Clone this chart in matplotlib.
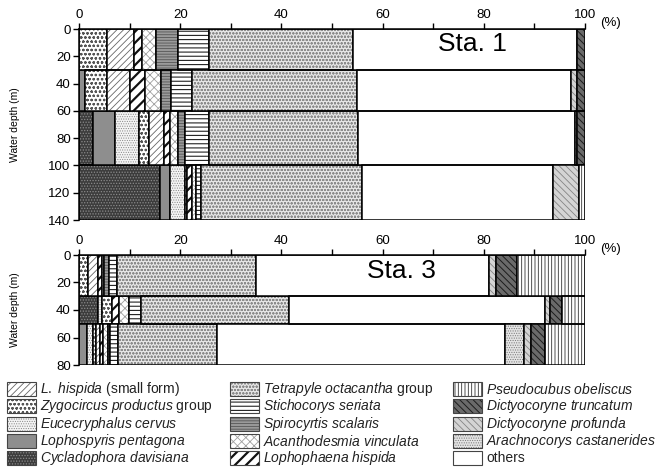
import matplotlib
matplotlib.use('Agg')
import matplotlib.pyplot as plt
import matplotlib.patches as mpatches
import numpy as np

plt.rcParams['font.family'] = ['Liberation Sans', 'DejaVu Sans']
plt.rcParams['mathtext.fontset'] = 'custom'
plt.rcParams['mathtext.rm'] = 'Liberation Sans'
plt.rcParams['mathtext.it'] = 'Liberation Sans:italic'
plt.rcParams['hatch.linewidth'] = 0.6

# ---- data (% of assemblage per depth interval) ----
sta1_depths = [0, 30, 60, 100, 140]
sta3_depths = [0, 30, 50, 80]

# stacking order from left to right; "others" fills the remainder
sta1_cycladophora = [0, 0, 2.8, 16.0]
sta1_lophospyris = [0, 1.2, 4.3, 2.0]
sta1_eucecryphalus = [0, 0, 4.8, 3.0]
sta1_zygocircus = [5.5, 4.3, 2.0, 0.4]
sta1_l_hispida_small = [5.3, 4.6, 2.9, 0]
sta1_lophophaena = [1.6, 3.0, 1.2, 1.0]
sta1_acanthodesmia = [2.8, 3.1, 1.5, 0.8]
sta1_spirocyrtis = [4.3, 2.0, 1.5, 0]
sta1_stichocorys = [6.1, 4.1, 4.7, 1.0]
sta1_tetrapyle = [28.5, 32.7, 29.5, 31.8]
sta1_arachnocorys = [0, 0, 0, 0]
sta1_d_profunda = [0, 1.3, 0.5, 5.3]
sta1_d_truncatum = [1.5, 1.5, 1.5, 0]
sta1_pseudocubus = [0, 0, 0, 1.1]

sta3_cycladophora = [0, 3.8, 0]
sta3_lophospyris = [0, 0, 1.5]
sta3_eucecryphalus = [0, 0.7, 1.3]
sta3_zygocircus = [1.8, 2.0, 0.6]
sta3_l_hispida_small = [1.9, 0, 0.8]
sta3_lophophaena = [0.8, 1.5, 0.6]
sta3_acanthodesmia = [0.4, 1.9, 0.9]
sta3_spirocyrtis = [1.0, 0, 0.4]
sta3_stichocorys = [1.7, 2.4, 1.6]
sta3_tetrapyle = [27.4, 29.3, 19.6]
sta3_arachnocorys = [0, 0, 3.8]
sta3_d_profunda = [1.4, 1.0, 1.3]
sta3_d_truncatum = [4.1, 2.4, 2.8]
sta3_pseudocubus = [13.5, 4.5, 7.9]

left_group = ['cycladophora', 'lophospyris', 'eucecryphalus', 'zygocircus',
              'l_hispida_small', 'lophophaena', 'acanthodesmia', 'spirocyrtis',
              'stichocorys', 'tetrapyle']
right_group = ['arachnocorys', 'd_profunda', 'd_truncatum', 'pseudocubus']

labels = {
    'l_hispida_small': r'$\mathit{L.\ hispida}$ (small form)',
    'zygocircus': r'$\mathit{Zygocircus\ productus}$ group',
    'eucecryphalus': r'$\mathit{Eucecryphalus\ cervus}$',
    'lophospyris': r'$\mathit{Lophospyris\ pentagona}$',
    'cycladophora': r'$\mathit{Cycladophora\ davisiana}$',
    'tetrapyle': r'$\mathit{Tetrapyle\ octacantha}$ group',
    'stichocorys': r'$\mathit{Stichocorys\ seriata}$',
    'spirocyrtis': r'$\mathit{Spirocyrtis\ scalaris}$',
    'acanthodesmia': r'$\mathit{Acanthodesmia\ vinculata}$',
    'lophophaena': r'$\mathit{Lophophaena\ hispida}$',
    'pseudocubus': r'$\mathit{Pseudocubus\ obeliscus}$',
    'd_truncatum': r'$\mathit{Dictyocoryne\ truncatum}$',
    'd_profunda': r'$\mathit{Dictyocoryne\ profunda}$',
    'arachnocorys': r'$\mathit{Arachnocorys\ castanerides}$',
    'others': 'others',
}
legend_columns = [
    ['l_hispida_small', 'zygocircus', 'eucecryphalus', 'lophospyris', 'cycladophora'],
    ['tetrapyle', 'stichocorys', 'spirocyrtis', 'acanthodesmia', 'lophophaena'],
    ['pseudocubus', 'd_truncatum', 'd_profunda', 'arachnocorys', 'others'],
]

# facecolor, hatch, hatch colour, hatch linewidth
styles = {
    'cycladophora': ('#3c3c3c', '......', '#8a8a8a', 0.6),
    'lophospyris': ('#8e8e8e', '', '#8e8e8e', 0.6),
    'eucecryphalus': ('#f4f4f4', '.......', '#8a8a8a', 0.5),
    'zygocircus': ('#ffffff', 'oooo', '#555555', 0.6),
    'l_hispida_small': ('#ffffff', '/////', '#666666', 0.6),
    'lophophaena': ('#ffffff', '///', '#111111', 1.6),
    'acanthodesmia': ('#ffffff', 'xxxx', '#a0a0a0', 0.6),
    'spirocyrtis': ('#9a9a9a', '------', '#555555', 0.6),
    'stichocorys': ('#ffffff', '----', '#222222', 0.8),
    'tetrapyle': ('#e6e6e6', 'ooooo', '#8c8c8c', 0.6),
    'others': ('#ffffff', '', '#ffffff', 0.6),
    'arachnocorys': ('#e4e4e4', '.......', '#7a7a7a', 0.5),
    'd_profunda': ('#d4d4d4', '\\\\\\\\\\', '#858585', 0.6),
    'd_truncatum': ('#6a6a6a', '\\\\\\\\\\', '#1c1c1c', 0.7),
    'pseudocubus': ('#ffffff', '|||||', '#333333', 0.6),
}


def station_values(prefix):
    vals = {name: np.array(globals()[prefix + name], dtype=float)
            for name in left_group + right_group}
    total = sum(vals.values())
    vals['others'] = 100 - total
    return vals


def styled_barh(ax, y, w, left, h, name):
    face, hatch, hcol, hlw = styles[name]
    with plt.rc_context({'hatch.linewidth': hlw}):
        bars = ax.barh(y, w, left=left, height=h, color=face, hatch=hatch,
                       edgecolor=hcol, linewidth=0)
    for b in bars:
        if hasattr(b, 'set_hatch_linewidth'):
            b.set_hatch_linewidth(hlw)
    ax.barh(y, w, left=left, height=h, fill=False, edgecolor='black',
            linewidth=1.1)


def draw_station(ax, depths, vals):
    depths = np.array(depths, dtype=float)
    mids = (depths[:-1] + depths[1:]) / 2
    heights = np.diff(depths)
    left = np.zeros(len(mids))
    for name in left_group + ['others'] + right_group:
        w = vals[name]
        keep = w > 0
        if keep.any():
            styled_barh(ax, mids[keep], w[keep], left[keep], heights[keep], name)
        left = left + w


def style_axes(ax, depths):
    ax.set_xlim(0, 100)
    ax.set_ylim(depths[-1], 0)
    ax.xaxis.tick_top()
    ax.set_xticks(np.arange(0, 101, 10))
    ax.set_xticklabels([str(v) if v % 20 == 0 else '' for v in range(0, 101, 10)])
    ax.set_yticks(np.arange(0, depths[-1] + 1, 20))
    ax.tick_params(direction='out', length=4, width=1, labelsize=9.5, pad=2)
    ax.spines['right'].set_visible(False)
    ax.spines['bottom'].set_visible(False)
    for s in ['top', 'left']:
        ax.spines[s].set_linewidth(1.1)
    ax.set_facecolor('none')


W, H = 658, 469
fig = plt.figure(figsize=(W / 100, H / 100), dpi=100)

ax1 = fig.add_axes([79 / W, 1 - 220 / H, 506 / W, 191 / H])
ax3 = fig.add_axes([79 / W, 1 - 365 / H, 506 / W, 110 / H])

draw_station(ax1, sta1_depths, station_values('sta1_'))
draw_station(ax3, sta3_depths, station_values('sta3_'))
style_axes(ax1, sta1_depths)
style_axes(ax3, sta3_depths)

for ax in (ax1, ax3):
    ax.set_ylabel('Water depth (m)', fontsize=7.5)
    ax.yaxis.set_label_coords(-0.117, 0.5)
    ax.text(1.03, 1.0, '(%)', transform=ax.transAxes, fontsize=9.5,
            va='bottom', ha='left')

ax1.text(71, 11, 'Sta. 1', fontsize=19, va='center', ha='left')
ax3.text(57, 12, 'Sta. 3', fontsize=19, va='center', ha='left')

# ---- legend drawn in pixel coordinates ----
lax = fig.add_axes([0, 0, 1, 1], zorder=-1)
lax.set_xlim(0, W)
lax.set_ylim(H, 0)
lax.axis('off')

col_x = [7, 230, 453]
row_y = [389, 406, 424, 441, 458]
for cx, names in zip(col_x, legend_columns):
    for ry, name in zip(row_y, names):
        face, hatch, hcol, hlw = styles[name]
        with plt.rc_context({'hatch.linewidth': hlw}):
            p = mpatches.Rectangle((cx, ry - 7), 29, 14, facecolor=face,
                                   hatch=hatch, edgecolor=hcol, linewidth=0)
        if hasattr(p, 'set_hatch_linewidth'):
            p.set_hatch_linewidth(hlw)
        lax.add_patch(p)
        lax.add_patch(mpatches.Rectangle((cx, ry - 7), 29, 14, fill=False,
                                         edgecolor='#444444', linewidth=0.8))
        lax.text(cx + 33, ry, labels[name], fontsize=10, va='center',
                 ha='left', color='#222222')

fig.savefig('out.png', dpi=100)
